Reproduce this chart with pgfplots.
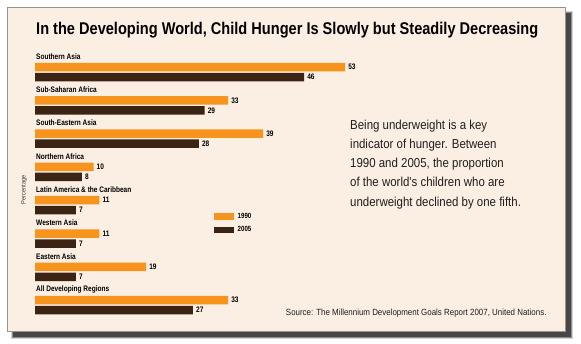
\documentclass[border=0pt]{standalone}
\usepackage{fontspec}
\setmainfont{Liberation Sans}
\newfontfamily\cf{Liberation Sans}[FakeStretch=0.885]
\newfontfamily\cfb{Liberation Sans}[FakeStretch=0.82]
\usepackage{graphicx}
\usepackage{pgfplots}
\pgfplotsset{compat=1.18}
\pgfdeclarelayer{background}
\pgfsetlayers{background,main}
\definecolor{bg}{HTML}{FBEEE3}
\definecolor{barA}{HTML}{F7941D}
\definecolor{barB}{HTML}{3C2415}
\definecolor{frame}{HTML}{9A918A}
\begin{document}
\begin{tikzpicture}[x=1bp,y=1bp]
\begin{axis}[
  scale only axis, width=351bp, height=266.4bp,
  xmin=0, xmax=60, ymin=-0.5, ymax=7.5,
  xbar, bar width=8.5bp,
  every axis plot post/.append style={
    legend image code/.code={\fill[##1, draw=none] (0bp,-3.4bp) rectangle (19.5bp,3.4bp);}},
  axis line style={draw=none}, major tick length=0pt,
  xtick=\empty, ytick={0,...,7},
  yticklabels={All Developing Regions, Eastern Asia, Western Asia, Latin America \& the Caribbean, Northern Africa, South-Eastern Asia, Sub-Saharan Africa, Southern Asia},
  yticklabel style={anchor=west, inner sep=0pt, xshift=1bp, yshift=15.5bp, text=black, font=\cfb\bfseries\fontsize{8}{8}\selectfont},
  ylabel={Percentage},
  ylabel style={at={(axis description cs:-0.0313,0.4946)}, anchor=center, inner sep=0pt, text=black!75, font=\cf\fontsize{6.5}{6.5}\selectfont},
  nodes near coords,
  /pgf/number format/assume math mode=true,
  every node near coord/.append style={font=\cfb\bfseries\fontsize{8}{8}\selectfont, anchor=west, inner sep=0pt, xshift=3bp, text=black},
  legend entries={1990,2005},
  legend cell align=left,
  legend style={at={(axis description cs:0.51,0.413)}, anchor=north west, draw=none, fill=none, inner sep=0pt, row sep=5bp, column sep=3bp, font=\cfb\bfseries\fontsize{7.5}{7.5}\selectfont, nodes={inner sep=1bp}},
  clip=false,
]
\addplot[fill=barA, draw=none, bar shift=5bp] coordinates {(53,7) (33,6) (39,5) (10,4) (11,3) (11,2) (19,1) (33,0)};
\addplot[fill=barB, draw=none, bar shift=-5bp] coordinates {(46,7) (29,6) (28,5) (8,4) (7,3) (7,2) (7,1) (27,0)};
\coordinate (O) at (rel axis cs:0,0);
\end{axis}
\begin{scope}[shift={(O)}]
\begin{scope}[shift={(-35,-21.25)}]
\begin{pgfonlayer}{background}
% shadow
\fill[black!70, opacity=0.25] (10.5,343-339) rectangle (573,343-11.5);
\fill[black!70, opacity=0.5] (11.5,343-338) rectangle (572,343-12.5);
\fill[black!72] (12.5,343-337) rectangle (571,343-13.5);
% panel
\fill[bg] (7.5,343-331) rectangle (565,343-7.7);
\draw[frame, line width=0.9bp] (7.5,343-331) rectangle (565,343-7.7);
\end{pgfonlayer}
% title
\node[anchor=base west, inner sep=0pt] at (36,343-34)
  {\resizebox{502bp}{12.3bp}{\bfseries In the Developing World, Child Hunger Is Slowly but Steadily Decreasing}};
% annotation
\begin{scope}[every node/.style={anchor=base west, inner sep=0pt, text=black!88, font=\cf\fontsize{13}{13}\selectfont}]
\node at (350,343-129.7) {Being underweight is a key};
\node at (350,343-148.6) {indicator of hunger. Between};
\node at (350,343-167.8) {1990 and 2005, the proportion};
\node at (350,343-186.8) {of the world's children who are};
\node at (350,343-206.0) {underweight declined by one fifth.};
\end{scope}
\node[anchor=base east, inner sep=0pt, text=black!88, font=\cf\fontsize{9}{9}\selectfont] at (546.7,343-315.0)
  {Source: The Millennium Development Goals Report 2007, United Nations.};
\pgfresetboundingbox
\path[use as bounding box] (0,0) rectangle (581,343);
\end{scope}
\end{scope}
\end{tikzpicture}
\end{document}
